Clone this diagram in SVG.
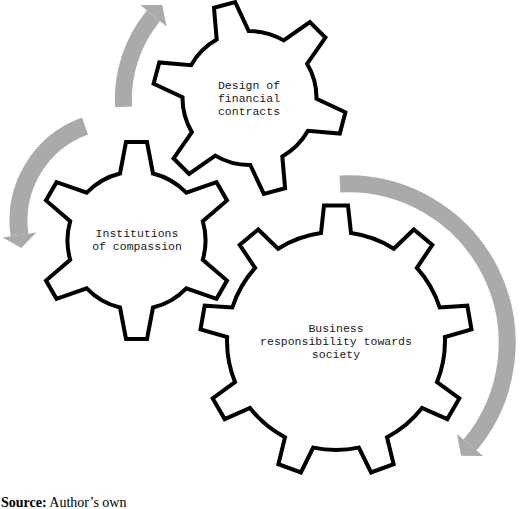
<svg xmlns="http://www.w3.org/2000/svg" width="520" height="509" viewBox="0 0 520 509">
<style>
.gear{fill:#ffffff;stroke:#000000;stroke-width:4;stroke-linejoin:miter}
.lbl{font-family:"Liberation Mono","Courier New",monospace;font-size:11.5px;fill:#1a1a1a;text-anchor:middle}
.body{fill:none;stroke:#aaaaaa;stroke-linecap:butt}
.head{fill:#aaaaaa;stroke:none}
.src{font-family:"Liberation Serif","Times New Roman",serif;font-size:14px;fill:#000000}
</style>
<rect width="520" height="509" fill="#ffffff"/>
<g id="connectors">
  <g id="arrow-top">
    <path class="body" stroke-width="17" d="M 123.5,106.9 A 131.7 131.7 0 0 1 153.4,15.8"/>
    <polygon class="head" points="140.3,5.0 166.5,26.6 162.3,5.0"/>
  </g>
  <g id="arrow-left">
    <path class="body" stroke-width="18" d="M 85,126 A 100.8 100.8 0 0 0 19.5,235"/>
    <polygon class="head" points="36.3,232.6 2.7,237.4 21.3,247.9"/>
  </g>
  <g id="arrow-right">
    <path class="body" stroke-width="17" d="M 340,184 A 159 159 0 0 1 470,445"/>
    <polygon class="head" points="483.0,455.9 457.0,434.1 461.0,455.7"/>
  </g>
</g>
<g id="node-design">
  <path class="gear" d="M 216.7,39.6 L 214.0,7.8 L 235.2,2.1 L 248.7,31.0 A 67 67 0 0 1 283.7,40.4 L 309.9,22.1 L 325.4,37.6 L 307.1,63.8 A 67 67 0 0 1 316.5,98.8 L 345.4,112.3 L 339.8,133.6 L 307.9,130.8 A 67 67 0 0 1 282.3,156.4 L 285.1,188.3 L 263.8,193.9 L 250.3,165.0 A 67 67 0 0 1 215.3,155.6 L 189.1,173.9 L 173.6,158.4 L 191.9,132.2 A 67 67 0 0 1 182.5,97.2 L 153.6,83.7 L 159.3,62.5 L 191.1,65.2 A 67 67 0 0 1 216.7,39.6 Z"/>
  <text class="lbl" x="249" y="89.2">Design of</text>
  <text class="lbl" x="249" y="102.2">financial</text>
  <text class="lbl" x="249" y="115.2">contracts</text>
</g>
<g id="node-institutions">
  <path class="gear" d="M 120.0,173.5 L 126.0,142.1 L 147.0,142.1 L 153.0,173.5 A 69 69 0 0 1 186.3,192.7 L 216.5,182.2 L 227.0,200.4 L 202.8,221.3 A 69 69 0 0 1 202.8,259.7 L 227.0,280.6 L 216.5,298.8 L 186.3,288.3 A 69 69 0 0 1 153.0,307.5 L 147.0,338.9 L 126.0,338.9 L 120.0,307.5 A 69 69 0 0 1 86.7,288.3 L 56.5,298.8 L 46.0,280.6 L 70.2,259.7 A 69 69 0 0 1 70.2,221.3 L 46.0,200.4 L 56.5,182.2 L 86.7,192.7 A 69 69 0 0 1 120.0,173.5 Z"/>
  <text class="lbl" x="137" y="236.5">Institutions</text>
  <text class="lbl" x="137" y="249.5">of compassion</text>
</g>
<g id="node-business">
  <path class="gear" d="M 321.0,233.0 L 324.0,205.5 L 348.0,205.5 L 351.0,233.0 A 109 109 0 0 1 393.9,248.7 L 413.8,229.5 L 432.3,244.9 L 416.9,267.9 A 109 109 0 0 1 439.7,307.5 L 467.3,305.7 L 471.5,329.3 L 444.9,337.0 A 109 109 0 0 1 437.0,382.0 L 459.3,398.4 L 447.3,419.1 L 422.0,408.0 A 109 109 0 0 1 387.0,437.3 L 393.6,464.2 L 371.1,472.4 L 358.8,447.6 A 109 109 0 0 1 313.2,447.6 L 300.9,472.4 L 278.4,464.2 L 285.0,437.3 A 109 109 0 0 1 250.0,408.0 L 224.7,419.1 L 212.7,398.4 L 235.0,382.0 A 109 109 0 0 1 227.1,337.0 L 200.5,329.3 L 204.7,305.7 L 232.3,307.5 A 109 109 0 0 1 255.1,267.9 L 239.7,244.9 L 258.2,229.5 L 278.1,248.7 A 109 109 0 0 1 321.0,233.0 Z"/>
  <text class="lbl" x="336" y="331.5">Business</text>
  <text class="lbl" x="336" y="344.5">responsibility towards</text>
  <text class="lbl" x="336" y="357.5">society</text>
</g>
<text class="src" x="1" y="507"><tspan font-weight="bold">Source:</tspan> Author’s own</text>
</svg>
